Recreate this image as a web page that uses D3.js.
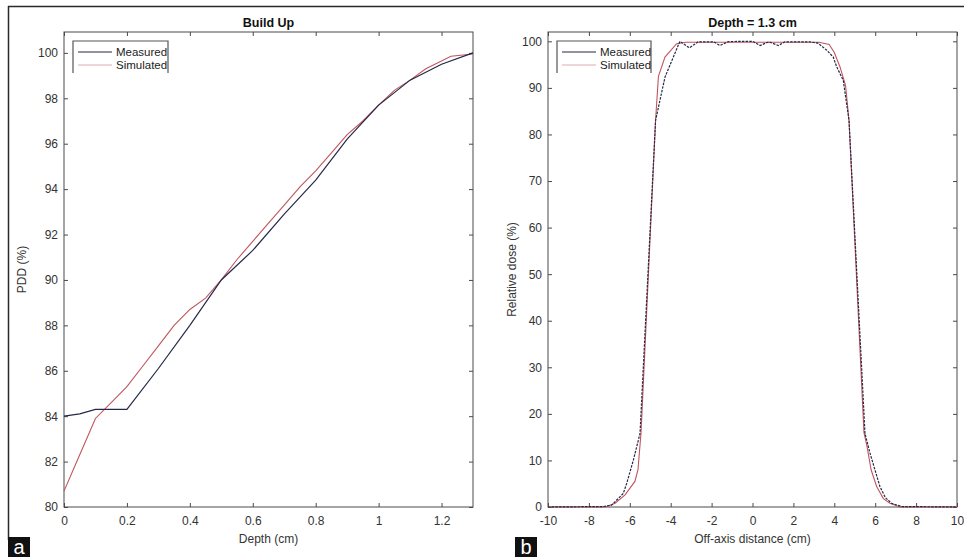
<!DOCTYPE html>
<html><head><meta charset="utf-8">
<script src="https://cdn.jsdelivr.net/npm/d3@7"></script>
<style>
body{margin:0;background:#fff;}
svg{display:block;font-family:"Liberation Sans",Arial,sans-serif;}
</style></head>
<body><svg id="c" width="964" height="557"></svg>
<script>
// ---- Panel a: Build Up ----
const depthMeasured = [0, 0.05, 0.1, 0.2, 0.3, 0.4, 0.5, 0.6, 0.7, 0.8, 0.9, 1.0, 1.1, 1.2, 1.3];
const pddMeasured   = [84.0, 84.1, 84.3, 84.3, 86.1, 88.0, 90.0, 91.3, 92.9, 94.4, 96.2, 97.7, 98.8, 99.5, 100.0];
const depthSimulated = [0, 0.05, 0.1, 0.15, 0.2, 0.25, 0.3, 0.35, 0.4, 0.45, 0.5, 0.55, 0.6, 0.65, 0.7, 0.75, 0.8, 0.85, 0.9, 0.95, 1.0, 1.05, 1.1, 1.15, 1.23, 1.3];
const pddSimulated   = [80.7, 82.3, 83.9, 84.6, 85.3, 86.2, 87.1, 88.0, 88.7, 89.2, 90.0, 90.9, 91.7, 92.5, 93.3, 94.1, 94.8, 95.6, 96.4, 97.0, 97.7, 98.35, 98.8, 99.3, 99.85, 99.95];
const depthTicks = [0, 0.2, 0.4, 0.6, 0.8, 1, 1.2];
const pddTicks = [80, 82, 84, 86, 88, 90, 92, 94, 96, 98, 100];

// ---- Panel b: Depth = 1.3 cm profile ----
const offMeasured = [-10, -7.3, -6.89, -6.32, -6.15, -5.83, -5.5, -4.74, -4.28, -3.55, -3.09, -2.65, -1.9, -1.59, -1.2, -0.69, 0, 0.37, 0.8, 1.26, 1.59, 2.8, 3.2, 3.63, 3.95, 4.12, 4.44, 4.72, 5.5, 5.75, 6.23, 6.5, 6.8, 7.3, 10];
const doseMeasured = [0, 0.1, 0.4, 2.9, 5.1, 10.0, 15.8, 83.0, 92.3, 100.0, 98.6, 99.9, 99.9, 99.1, 99.9, 100.0, 100.0, 99.1, 99.9, 99.1, 99.9, 99.9, 99.6, 98.1, 96.6, 94.5, 91.6, 83.0, 15.8, 11.5, 4.4, 2.0, 0.8, 0.1, 0];
const offSimulated = [-10, -7.2, -6.72, -6.23, -5.75, -5.6, -5.45, -4.74, -4.6, -4.28, -3.71, -3.25, 0, 3.25, 3.75, 4.0, 4.28, 4.55, 4.72, 5.45, 5.6, 5.8, 6.07, 6.4, 6.72, 7.2, 10];
const doseSimulated = [0, 0, 0.8, 2.6, 5.5, 8.0, 16.0, 83.0, 92.5, 96.6, 99.5, 99.8, 99.8, 99.8, 99.3, 97.6, 94.5, 90.5, 83.0, 16.0, 13.0, 8.0, 4.4, 1.8, 0.8, 0, 0];
const offTicks = [-10, -8, -6, -4, -2, 0, 2, 4, 6, 8, 10];
const doseTicks = [0, 10, 20, 30, 40, 50, 60, 70, 80, 90, 100];

const seriesNames = ["Measured", "Simulated"];
const colMeasured = "#252849";
const colSimulated = "#c0565c";
const colSimLegend = "#e2aab2";
const axisCol = "#4a4a4a";

const svg = d3.select("#c");

// outer frame
svg.append("line").attr("x1", 8).attr("x2", 964).attr("y1", 6.5).attr("y2", 6.5).attr("stroke", "#2a2a2a").attr("stroke-width", 1.5);
svg.append("line").attr("x1", 8.5).attr("x2", 8.5).attr("y1", 6).attr("y2", 540).attr("stroke", "#2a2a2a").attr("stroke-width", 1.5);

function panel(cfg) {
  const x = d3.scaleLinear().domain(cfg.xDomain).range([cfg.left, cfg.right]);
  const y = d3.scaleLinear().domain(cfg.yDomain).range([cfg.bottom, cfg.top]);
  const g = svg.append("g");
  const fmt = d => String(d);
  const axes = [
    [d3.axisBottom(x).tickValues(cfg.xTicks).tickFormat(fmt).tickSizeInner(-4).tickSizeOuter(0).tickPadding(9), `translate(0,${cfg.bottom})`],
    [d3.axisTop(x).tickValues(cfg.xTicks).tickFormat("").tickSizeInner(-4).tickSizeOuter(0), `translate(0,${cfg.top})`],
    [d3.axisLeft(y).tickValues(cfg.yTicks).tickFormat(fmt).tickSizeInner(-4).tickSizeOuter(0).tickPadding(6), `translate(${cfg.left},0)`],
    [d3.axisRight(y).tickValues(cfg.yTicks).tickFormat("").tickSizeInner(-4).tickSizeOuter(0), `translate(${cfg.right},0)`]
  ];
  axes.forEach(([ax, tr]) => {
    const a = g.append("g").attr("transform", tr).call(ax);
    a.select(".domain").remove();
    a.selectAll("line").attr("stroke", axisCol);
    a.selectAll("text").attr("fill", "#333").style("font-size", "12px").style("font-family", '"Liberation Sans",Arial,sans-serif');
  });
  g.append("rect").attr("x", cfg.left).attr("y", cfg.top).attr("width", cfg.right - cfg.left).attr("height", cfg.bottom - cfg.top)
    .attr("fill", "none").attr("stroke", axisCol).attr("stroke-width", 1);

  const line = d3.line().x(d => x(d[0])).y(d => y(d[1]));
  g.append("path").datum(cfg.simX.map((v, i) => [v, cfg.simY[i]])).attr("d", line)
    .attr("fill", "none").attr("stroke", colSimulated).attr("stroke-width", 1.1);
  g.append("path").datum(cfg.measX.map((v, i) => [v, cfg.measY[i]])).attr("d", line)
    .attr("fill", "none").attr("stroke", colMeasured).attr("stroke-width", 1.2)
    .attr("stroke-dasharray", cfg.measDash || null);

  // title
  g.append("text").attr("x", (cfg.left + cfg.right) / 2).attr("y", 27).attr("text-anchor", "middle")
    .style("font-size", "12.5px").style("font-weight", "bold").attr("fill", "#111").text(cfg.title);
  // x label
  g.append("text").attr("x", (cfg.left + cfg.right) / 2).attr("y", 543).attr("text-anchor", "middle")
    .style("font-size", "12px").attr("fill", "#333").text(cfg.xLabel);
  // y label
  g.append("text").attr("transform", `translate(${cfg.yLabelX},${(cfg.top + cfg.bottom) / 2}) rotate(-90)`)
    .attr("text-anchor", "middle").attr("dy", "0.35em")
    .style("font-size", "12px").attr("fill", "#333").text(cfg.yLabel);

  // legend
  const lx = cfg.left + 9, ly = 41, lw = cfg.legendW, lh = 32;
  g.append("path").attr("d", `M${lx},${ly + lh}V${ly}H${lx + lw}V${ly + lh}`)
    .attr("fill", "none").attr("stroke", "#555").attr("stroke-width", 1.2);
  const cols = [colMeasured, colSimLegend];
  seriesNames.forEach((n, i) => {
    const yy = ly + 11 + i * 13;
    g.append("line").attr("x1", lx + 5).attr("x2", lx + 39).attr("y1", yy).attr("y2", yy)
      .attr("stroke", cols[i]).attr("stroke-width", 1.2);
    g.append("text").attr("x", lx + 43).attr("y", yy).attr("dy", "0.35em")
      .style("font-size", "11.5px").attr("fill", "#222").text(n);
  });
}

panel({
  left: 64, right: 473, top: 32, bottom: 507,
  xDomain: [0, 1.3], yDomain: [80, 100.92],
  xTicks: depthTicks, yTicks: pddTicks,
  measX: depthMeasured, measY: pddMeasured,
  simX: depthSimulated, simY: pddSimulated,
  title: "Build Up", xLabel: "Depth (cm)", yLabel: "PDD (%)", yLabelX: 22, legendW: 95
});

panel({
  left: 548, right: 957, top: 32, bottom: 507,
  xDomain: [-10, 10], yDomain: [0, 102],
  xTicks: offTicks, yTicks: doseTicks,
  measX: offMeasured, measY: doseMeasured,
  simX: offSimulated, simY: doseSimulated, measDash: "2.5,1.2",
  title: "Depth = 1.3 cm", xLabel: "Off-axis distance (cm)", yLabel: "Relative dose (%)", yLabelX: 512, legendW: 94
});

// panel letters
const letters = [["a", 8], ["b", 515]];
letters.forEach(([t, x0]) => {
  svg.append("rect").attr("x", x0).attr("y", 537).attr("width", 22).attr("height", 20).attr("fill", "#111");
  svg.append("text").attr("x", x0 + 11).attr("y", 554).attr("text-anchor", "middle")
    .style("font-size", "20px").attr("fill", "#fff").text(t);
});
</script></body></html>
